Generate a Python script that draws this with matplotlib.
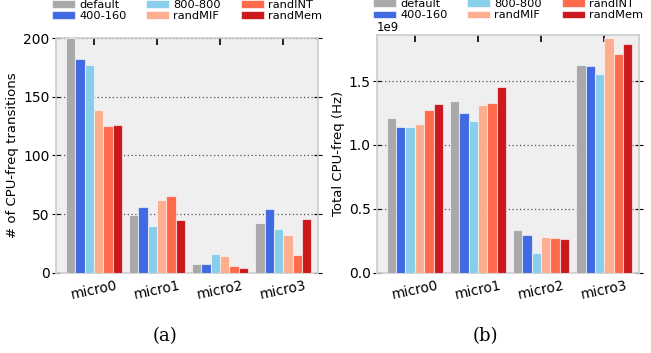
import numpy as np
import matplotlib
matplotlib.use("Agg")
import matplotlib.pyplot as plt

# data
BENCHMARKS = ["micro0", "micro1", "micro2", "micro3"]
CONFIGS = ["default", "400-160", "800-800", "randMIF", "randINT", "randMem"]
COLORS = ["#a9a9a9", "#4169e1", "#87ceeb", "#fcae8e", "#ff6a4c", "#cb181d"]

transitions_default = [200, 49, 7, 42]
transitions_400_160 = [182, 56, 7, 54]
transitions_800_800 = [177, 40, 16, 37]
transitions_randMIF = [139, 62, 14, 32]
transitions_randINT = [125, 65, 6, 15]
transitions_randMem = [126, 45, 4, 46]

freq_default = [1.213e9, 1.344e9, 0.334e9, 1.630e9]
freq_400_160 = [1.143e9, 1.253e9, 0.295e9, 1.620e9]
freq_800_800 = [1.143e9, 1.190e9, 0.157e9, 1.555e9]
freq_randMIF = [1.167e9, 1.315e9, 0.277e9, 1.840e9]
freq_randINT = [1.273e9, 1.328e9, 0.269e9, 1.716e9]
freq_randMem = [1.320e9, 1.450e9, 0.264e9, 1.787e9]

BAR_WIDTH = 0.148


def draw_panel(ax, series, ylabel, ylim, yticks, leg_y):
    """draw one grouped bar panel."""
    x = np.arange(len(BENCHMARKS))
    n = len(series)
    for i, (vals, name, color) in enumerate(zip(series, CONFIGS, COLORS)):
        offset = (i - (n - 1) / 2) * BAR_WIDTH
        ax.bar(x + offset, vals, BAR_WIDTH, color=color, label=name,
               edgecolor=(1, 1, 1, 0.6), linewidth=0.8, zorder=3)
    ax.set_facecolor("#efefef")
    ax.set_xlim(-0.6, 3.55)
    ax.set_ylim(*ylim)
    ax.set_yticks(yticks)
    ax.set_xticks(x)
    ax.set_xticklabels(BENCHMARKS, rotation=12, fontsize=9.8)
    ax.tick_params(axis="y", labelsize=10, direction="inout", length=6,
                   right=True, colors="black", pad=1.5)
    ax.tick_params(axis="x", direction="in", length=5, top=True,
                   width=1.2, pad=4)
    for sp in ax.spines.values():
        sp.set_color("#cccccc")
        sp.set_linewidth(1.2)
    ax.grid(axis="y", linestyle=(0, (1, 2)), color="#555555",
            linewidth=0.9, zorder=1)
    ax.set_axisbelow(True)
    ax.set_ylabel(ylabel, fontsize=9.5, labelpad=3)
    ax.legend(loc="lower center", bbox_to_anchor=(0.5, leg_y), ncol=3,
              frameon=False, fontsize=8.2, handlelength=2.0,
              handleheight=0.65, columnspacing=1.75, labelspacing=0.1,
              handletextpad=0.35, borderaxespad=0.0)


def main():
    fig = plt.figure(figsize=(6.51, 3.53), dpi=100)
    ax1 = fig.add_axes([0.086, 0.2275, 0.4025, 0.6645])
    ax2 = fig.add_axes([0.579, 0.2275, 0.4026, 0.673])

    draw_panel(ax1, [transitions_default, transitions_400_160, transitions_800_800,
                     transitions_randMIF, transitions_randINT, transitions_randMem],
               "# of CPU-freq transitions", (0, 200), [0, 50, 100, 150, 200], 1.053)
    draw_panel(ax2, [freq_default, freq_400_160, freq_800_800,
                     freq_randMIF, freq_randINT, freq_randMem],
               "Total CPU-freq (Hz)", (0, 1.86e9), [0, 0.5e9, 1.0e9, 1.5e9], 1.043)
    ax2.yaxis.get_offset_text().set_fontsize(8.5)

    fig.text(0.2535, 0.035, "(a)", family="serif", fontsize=13, ha="center")
    fig.text(0.745, 0.035, "(b)", family="serif", fontsize=13, ha="center")
    fig.savefig("out.png", dpi=100)


if __name__ == "__main__":
    main()
